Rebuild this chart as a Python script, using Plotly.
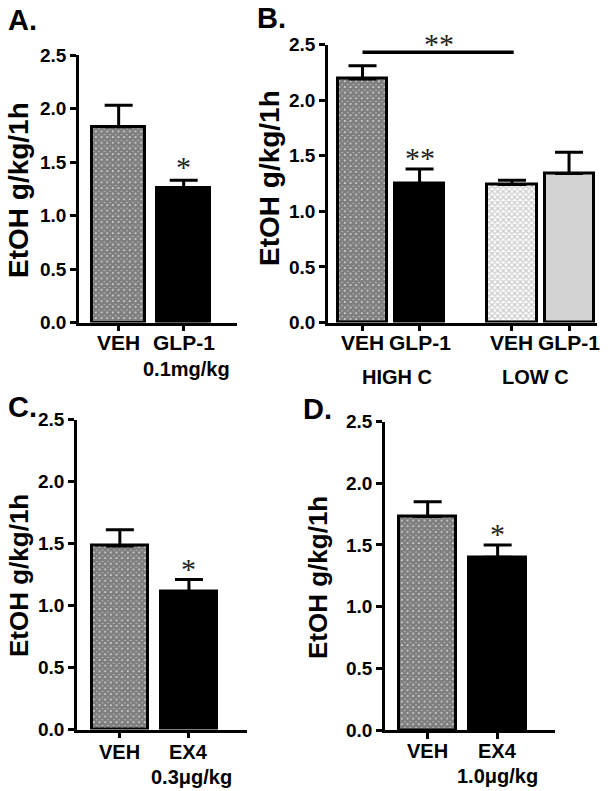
import plotly.graph_objects as go

# ---------------- data ----------------
cats_a = ["VEH", "GLP-1"]
vals_a = [1.83, 1.26]
sem_a = [0.20, 0.07]
dose_a = "0.1mg/kg"

cats_b = ["VEH", "GLP-1", "VEH", "GLP-1"]
vals_b = [2.19, 1.25, 1.24, 1.34]
sem_b = [0.12, 0.13, 0.04, 0.19]
groups_b = ["HIGH C", "LOW C"]

cats_c = ["VEH", "EX4"]
vals_c = [1.48, 1.11]
sem_c = [0.13, 0.10]
dose_c = "0.3\u03bcg/kg"

cats_d = ["VEH", "EX4"]
vals_d = [1.73, 1.40]
sem_d = [0.12, 0.10]
dose_d = "1.0\u03bcg/kg"

y_tickvals = [0, 0.5, 1.0, 1.5, 2.0, 2.5]
y_ticktext = ["0.0", "0.5", "1.0", "1.5", "2.0", "2.5"]
y_label = "EtOH g/kg/1h"
sig_line_b = 2.43   # level of the HIGH-vs-LOW comparison bar in B

# ---------------- layout helpers ----------------
W, H = 611, 791
FONT = "Liberation Sans, Arial, sans-serif"
STAR = "Liberation Serif, Times New Roman, serif"

def px_x(p):
    return p / W

def px_y(p):
    return 1 - p / H

checker = dict(shape="x", size=4, solidity=0.9, fgcolor="black", bgcolor="white")
light_checker = dict(shape="x", size=4, solidity=0.55, fgcolor="#9a9a9a", bgcolor="white")
solid_black = dict(color="black")
solid_gray = dict(color="#d3d3d3")

fig = go.Figure()

def add_bars(axis_id, xpos, vals, sems, styles, width):
    xa = "x" if axis_id == 1 else f"x{axis_id}"
    ya = "y" if axis_id == 1 else f"y{axis_id}"
    for xp, v, s, st in zip(xpos, vals, sems, styles):
        marker = dict(line=dict(color="black", width=3))
        if "shape" in st:
            marker["color"] = "white"
            marker["pattern"] = dict(shape=st["shape"], size=st["size"], solidity=st["solidity"],
                                     fgcolor=st["fgcolor"], bgcolor=st["bgcolor"], fillmode="overlay")
        else:
            marker["color"] = st["color"]
        fig.add_trace(go.Bar(
            x=[xp], y=[v], width=width, xaxis=xa, yaxis=ya, marker=marker,
            error_y=dict(type="data", symmetric=False, array=[s], arrayminus=[0],
                         color="black", thickness=3, width=14),
            showlegend=False, hoverinfo="skip",
        ))

pos_two = [0, 1]
pos_b = [0, 1, 2.62, 3.62]

add_bars(1, pos_two, vals_a, sem_a, [checker, solid_black], 0.82)
add_bars(2, pos_b, vals_b, sem_b, [checker, solid_black, light_checker, solid_gray], 0.86)
add_bars(3, pos_two, vals_c, sem_c, [checker, solid_black], 0.81)
add_bars(4, pos_two, vals_d, sem_d, [checker, solid_black], 0.81)

# comparison line in B
fig.add_trace(go.Scatter(x=[pos_b[0], 2.65], y=[sig_line_b, sig_line_b], mode="lines",
                         line=dict(color="black", width=3.5), xaxis="x2", yaxis="y2",
                         showlegend=False, hoverinfo="skip", cliponaxis=False))

tickfont = dict(family=FONT, size=19, color="black", weight="bold")

def axis_pair(xdom, ydom, xrange_, tickvals, anchor_x, anchor_y):
    xa = dict(domain=xdom, range=xrange_, showline=True, linecolor="black", linewidth=2.5,
              ticks="outside", ticklen=6, tickwidth=2.5, tickcolor="black",
              tickvals=tickvals, showticklabels=False, automargin=False,
              showgrid=False, zeroline=False, anchor=anchor_y, fixedrange=True)
    ya = dict(domain=ydom, range=[0, 2.5], showline=True, linecolor="black", linewidth=2.5,
              ticks="outside", ticklen=6, tickwidth=2.5, tickcolor="black",
              tickvals=y_tickvals, ticktext=y_ticktext, tickfont=tickfont, automargin=False,
              showgrid=False, zeroline=False, anchor=anchor_x, fixedrange=True)
    return xa, ya

xa1, ya1 = axis_pair([px_x(79), px_x(237)], [px_y(322.5), px_y(55)], [-0.61, 1.82], pos_two, "x", "y")
xa2, ya2 = axis_pair([px_x(328), px_x(597)], [px_y(322.5), px_y(44.5)], [-0.605, 4.11], pos_b, "x2", "y2")
xa3, ya3 = axis_pair([px_x(77), px_x(247)], [px_y(729.5), px_y(419.5)], [-0.62, 1.84], pos_two, "x3", "y3")
xa4, ya4 = axis_pair([px_x(385), px_x(555)], [px_y(730), px_y(421.5)], [-0.61, 1.82], pos_two, "x4", "y4")

annotations = []

def txt(text, x, y, size, xref="paper", yref="paper", angle=0, family=FONT, bold=True,
        color="black", xanchor="center", yanchor="middle"):
    annotations.append(dict(text=f"<b>{text}</b>" if bold else text, x=x, y=y, xref=xref, yref=yref,
                            showarrow=False, textangle=angle, xanchor=xanchor, yanchor=yanchor,
                            font=dict(family=family, size=size, color=color)))

# panel letters
txt("A.", px_x(6), px_y(2), 29, xanchor="left", yanchor="top")
txt("B.", px_x(255), px_y(0), 29, xanchor="left", yanchor="top")
txt("C.", px_x(6), px_y(389), 29, xanchor="left", yanchor="top")
txt("D.", px_x(301), px_y(391), 29, xanchor="left", yanchor="top")

# y titles
txt(y_label, px_x(19), px_y(190), 28, angle=-90)
txt(y_label, px_x(270), px_y(178), 28, angle=-90)
txt(y_label, px_x(19), px_y(576), 26, angle=-90)
txt(y_label, px_x(318), px_y(578), 26, angle=-90)

# category labels (first row)
for c, xp in zip(cats_a, pos_two):
    txt(c, xp, px_y(342), 21, xref="x")
for c, xp in zip(cats_b, pos_b):
    txt(c, xp, px_y(342), 21, xref="x2")
for c, xp in zip(cats_c, pos_two):
    txt(c, xp, px_y(752), 20, xref="x3")
for c, xp in zip(cats_d, pos_two):
    txt(c, xp, px_y(751), 20, xref="x4")

# second-row labels
txt(dose_a, 1.05, px_y(369), 20, xref="x")
txt(groups_b[0], 0.6, px_y(377), 20, xref="x2")
txt(groups_b[1], 3.03, px_y(377), 20, xref="x2")
txt(dose_c, 1.03, px_y(777), 20, xref="x3")
txt(dose_d, 1.0, px_y(776), 20, xref="x4")

# significance stars
txt("*", 1, px_y(167), 30, xref="x", family=STAR, bold=False, color="#222")
txt("**", 1, px_y(157), 30, xref="x2", family=STAR, bold=False, color="#222")
txt("**", 1.34, px_y(43), 30, xref="x2", family=STAR, bold=False, color="#222")
txt("*", 1, px_y(568), 30, xref="x3", family=STAR, bold=False, color="#222")
txt("*", 1, px_y(533), 30, xref="x4", family=STAR, bold=False, color="#222")

fig.update_layout(
    width=W, height=H, margin=dict(l=0, r=0, t=0, b=0, pad=0, autoexpand=False),
    autosize=False,
    paper_bgcolor="white", plot_bgcolor="white", showlegend=False,
    bargap=0, barmode="overlay",
    xaxis=xa1, yaxis=ya1, xaxis2=xa2, yaxis2=ya2,
    xaxis3=xa3, yaxis3=ya3, xaxis4=xa4, yaxis4=ya4,
    annotations=annotations,
)

fig.write_html("out.html", config={"displayModeBar": False},
               post_script="document.body.style.margin='0px';")
